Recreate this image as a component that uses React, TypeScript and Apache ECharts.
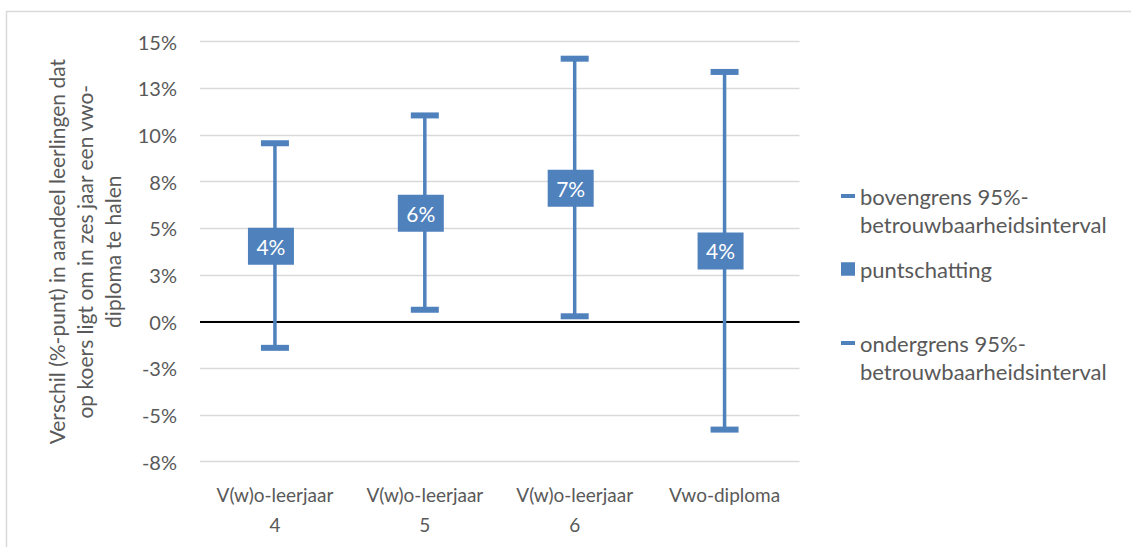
import React, { useEffect, useRef } from "react";
import * as echarts from "echarts";

const categories = ["V(w)o-leerjaar\n4", "V(w)o-leerjaar\n5", "V(w)o-leerjaar\n6", "Vwo-diploma"];
const upperBound = [9.56, 11.05, 14.09, 13.38];
const pointEstimate = [4.04, 5.81, 7.15, 3.79];
const lowerBound = [-1.4, 0.64, 0.29, -5.78];

const upperName = "bovengrens 95%-\nbetrouwbaarheidsinterval";
const pointName = "puntschatting";
const lowerName = "ondergrens 95%-\nbetrouwbaarheidsinterval";
const yAxisTitle = "Verschil (%-punt) in aandeel leerlingen dat\nop koers ligt om in zes jaar een vwo-\ndiploma te halen";

const BLUE = "#4F81BD";
const GREY_TEXT = "#595959";
const FONT = "Lato";

const fmtPct = (v: number) => (v < 0 ? "-" : "") + Math.round(Math.abs(v)) + "%";

export default function App() {
  const ref = useRef<HTMLDivElement>(null);
  useEffect(() => {
    if (!ref.current) return;
    const chart = echarts.init(ref.current, undefined, { renderer: "svg" });
    const legendText = {
      fontSize: 22,
      fontFamily: FONT,
      color: GREY_TEXT,
      lineHeight: 28.5,
    };
    const legendFmt = (name: string) => (name.indexOf("\n") >= 0 ? "\n" + name : name);
    chart.setOption({
      animation: false,
      backgroundColor: "#ffffff",
      textStyle: { fontFamily: FONT },
      graphic: [
        {
          type: "rect",
          shape: { x: 6.5, y: 11.5, width: 1300, height: 700 },
          style: { fill: "none", stroke: "#D9D9D9", lineWidth: 1.5 },
          silent: true,
          z: -10,
        },
      ],
      grid: {
        left: 200,
        right: 331.5,
        top: 41.7,
        bottom: 85.3,
        containLabel: false,
        outerBoundsMode: "none",
      },
      legend: [
        {
          data: [{ name: upperName, icon: "rect" }],
          formatter: legendFmt,
          left: 841,
          top: 153.25,
          padding: 0,
          itemWidth: 14,
          itemHeight: 4,
          selectedMode: false,
          textStyle: legendText,
        },
        {
          data: [{ name: pointName, icon: "rect" }],
          left: 841,
          top: 254.75,
          padding: 0,
          itemWidth: 14,
          itemHeight: 13.5,
          selectedMode: false,
          textStyle: legendText,
        },
        {
          data: [{ name: lowerName, icon: "rect" }],
          formatter: legendFmt,
          left: 841,
          top: 300.25,
          padding: 0,
          itemWidth: 14,
          itemHeight: 4,
          selectedMode: false,
          textStyle: legendText,
        },
      ],
      xAxis: {
        type: "category",
        data: categories,
        boundaryGap: true,
        axisLine: { show: false },
        axisTick: { show: false },
        axisLabel: {
          fontSize: 19,
          fontFamily: FONT,
          color: GREY_TEXT,
          lineHeight: 30,
          margin: 18,
          interval: 0,
        },
        splitLine: { show: false },
      },
      yAxis: {
        type: "value",
        min: -7.5,
        max: 15,
        interval: 2.5,
        axisLine: { show: false },
        axisTick: { show: false },
        axisLabel: {
          fontSize: 20,
          fontFamily: FONT,
          color: GREY_TEXT,
          margin: 23,
          formatter: fmtPct,
        },
        splitLine: { lineStyle: { color: "#D9D9D9", width: 1.3 } },
        name: yAxisTitle,
        nameLocation: "middle",
        nameRotate: 90,
        nameGap: 74,
        nameTextStyle: {
          fontSize: 21,
          fontFamily: FONT,
          color: GREY_TEXT,
          lineHeight: 28,
          align: "center",
        },
      },
      series: [
        {
          name: "interval",
          type: "custom",
          z: 2,
          data: categories.map((_, i) => [i, lowerBound[i], upperBound[i]]),
          encode: { x: 0, y: [1, 2] },
          renderItem: (params: any, api: any) => {
            const x = api.value(0);
            const lo = api.coord([x, api.value(1)]);
            const hi = api.coord([x, api.value(2)]);
            return {
              type: "line",
              shape: { x1: lo[0], y1: lo[1], x2: hi[0], y2: hi[1] },
              style: { stroke: BLUE, lineWidth: 3.5 },
            };
          },
          markLine: {
            silent: true,
            symbol: "none",
            z: 1,
            label: { show: false },
            lineStyle: { color: "#000000", width: 2, type: "solid" },
            data: [{ yAxis: 0 }],
          },
        },
        {
          name: upperName,
          type: "scatter",
          z: 3,
          symbol: "rect",
          symbolSize: [28, 6],
          itemStyle: { color: BLUE, opacity: 1 },
          data: upperBound,
        },
        {
          name: lowerName,
          type: "scatter",
          z: 3,
          symbol: "rect",
          symbolSize: [28, 6],
          itemStyle: { color: BLUE, opacity: 1 },
          data: lowerBound,
        },
        {
          name: pointName,
          type: "scatter",
          z: 4,
          symbol: "rect",
          symbolSize: [46, 37],
          symbolOffset: [-4, 0],
          itemStyle: { color: BLUE, opacity: 1 },
          label: {
            show: true,
            position: "inside",
            formatter: (p: any) => Math.round(p.value) + "%",
            color: "#ffffff",
            fontSize: 21,
            fontFamily: FONT,
          },
          data: pointEstimate,
        },
      ],
    });
    return () => chart.dispose();
  }, []);
  return (
    <div
      ref={ref}
      style={{ position: "fixed", left: 0, top: 0, width: 1131, height: 547 }}
    />
  );
}
